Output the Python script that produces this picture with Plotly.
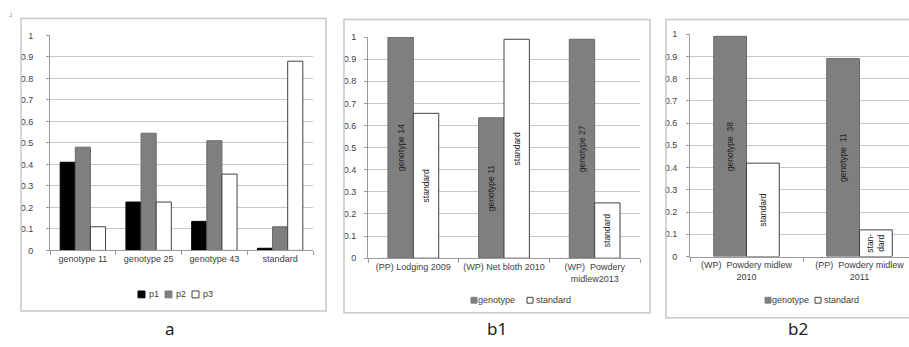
import plotly.graph_objects as go

W, H = 909, 347

# ---- data: panel a ----
a_categories = ["genotype 11", "genotype 25", "genotype 43", "standard"]
a_series = ["p1", "p2", "p3"]
a_p1 = [0.41, 0.225, 0.135, 0.01]
a_p2 = [0.48, 0.545, 0.51, 0.11]
a_p3 = [0.11, 0.225, 0.355, 0.88]

# ---- data: panel b1 ----
b_series = ["genotype", "standard"]
b1_categories = ["(PP) Lodging 2009", "(WP) Net bloth 2010", "(WP)  Powdery<br>midlew2013"]
b1_genotype = [1.0, 0.635, 0.99]
b1_standard = [0.655, 0.99, 0.25]
b1_genotype_text = ["genotype 14", "genotype 11", "genotype 27"]
b1_standard_text = ["standard", "standard", "standard"]

# ---- data: panel b2 ----
b2_categories = ["(WP)  Powdery midlew<br>2010", "(PP)  Powdery midlew<br>2011"]
b2_genotype = [0.99, 0.89]
b2_standard = [0.42, 0.12]
b2_genotype_text = ["genotype  38", "genotype  11"]
b2_standard_text = ["standard", "stan-<br>dard"]

panel_labels = ["a", "b1", "b2"]

y_ticks = [0, 0.1, 0.2, 0.3, 0.4, 0.5, 0.6, 0.7, 0.8, 0.9, 1]
y_ticktext = ["0", "0.1", "0.2", "0.3", "0.4", "0.5", "0.6", "0.7", "0.8", "0.9", "1"]

GRAY = "#7f7f7f"
GRAY_EDGE = "#6a6a6a"
EDGE = "#404040"
FONT = "Liberation Sans, Arial, sans-serif"
TXT = "#404040"


def px(x):
    return x / W


def py(y):
    return 1 - y / H


fig = go.Figure()

# panel a  (bar width 0.23 of a category)
aw = 0.23
a_styles = [("black", "black"), (GRAY, GRAY_EDGE), ("white", EDGE)]
for i, (vals, (fc, lc)) in enumerate(zip([a_p1, a_p2, a_p3], a_styles)):
    fig.add_trace(go.Bar(x=a_categories, y=vals, name=a_series[i], width=aw, offset=-1.5 * aw + i * aw,
                         marker=dict(color=fc, line=dict(color=lc, width=1)),
                         xaxis="x", yaxis="y", showlegend=False))

bar_text_font = dict(family=FONT, size=8.5, color="#222222")


def b_trace(cats, vals, txt, name, fc, lc, w, off, xa, ya):
    return go.Bar(x=cats, y=vals, name=name, text=txt, width=w, offset=off,
                  textposition="inside", insidetextanchor="middle", textangle=-90,
                  textfont=bar_text_font, constraintext="none",
                  marker=dict(color=fc, line=dict(color=lc, width=1)),
                  xaxis=xa, yaxis=ya, showlegend=False)


# panel b1
bw1 = 0.28
fig.add_trace(b_trace(b1_categories, b1_genotype, b1_genotype_text, b_series[0], GRAY, GRAY_EDGE, bw1, -bw1, "x2", "y2"))
fig.add_trace(b_trace(b1_categories, b1_standard, b1_standard_text, b_series[1], "white", EDGE, bw1, 0, "x2", "y2"))

# panel b2
bw2 = 0.29
fig.add_trace(b_trace(b2_categories, b2_genotype, b2_genotype_text, b_series[0], GRAY, GRAY_EDGE, bw2, -bw2, "x3", "y3"))
fig.add_trace(b_trace(b2_categories, b2_standard, b2_standard_text, b_series[1], "white", EDGE, bw2, 0, "x3", "y3"))

tickfont = dict(family=FONT, size=9, color=TXT)


def xax(domain, anchor, rng):
    return dict(domain=domain, anchor=anchor, type="category", range=rng,
                showline=True, linecolor="#9a9a9a", linewidth=1,
                ticks="outside", tickson="boundaries", ticklen=4, tickcolor="#9a9a9a",
                showgrid=False, tickfont=tickfont, fixedrange=True)


def yax(domain, anchor, standoff):
    return dict(domain=domain, anchor=anchor, range=[0, 1], tickvals=y_ticks, ticktext=y_ticktext,
                showline=True, linecolor="#9a9a9a", linewidth=1,
                ticks="outside", ticklen=3, tickcolor="#9a9a9a", ticklabelstandoff=standoff,
                showgrid=True, gridcolor="#c8c8c8", gridwidth=1,
                zeroline=False, tickfont=tickfont, fixedrange=True)


fig.update_layout(
    width=W, height=H, autosize=False,
    margin=dict(l=0, r=0, t=0, b=0),
    paper_bgcolor="white", plot_bgcolor="white",
    barmode="group",
    showlegend=False,
    xaxis=xax([px(50), px(313)], "y", [-0.5, 3.5]),
    yaxis=yax([py(252.7), py(31.3)], "x", 11),
    xaxis2=xax([px(368), px(640)], "y2", [-0.5, 2.5]),
    yaxis2=yax([py(260.7), py(33)], "x2", 6),
    xaxis3=xax([px(690), 1.0], "y3", [-0.5, -0.5 + (909 - 690) / 113]),
    yaxis3=yax([py(259), py(30)], "x3", 7),
)

# panel frames
frame_line = dict(color="#c8c8c8", width=1.5)
fig.add_shape(type="rect", xref="paper", yref="paper", x0=px(21), x1=px(326), y0=py(315), y1=py(14), line=frame_line)
fig.add_shape(type="rect", xref="paper", yref="paper", x0=px(344), x1=px(650), y0=py(317), y1=py(15), line=frame_line)
fig.add_shape(type="rect", xref="paper", yref="paper", x0=px(666), x1=px(915), y0=py(322), y1=py(15), line=frame_line)

# legends (compact, Excel-like): (square x0, text x0, y-center, name, fill, edge, size)
legend_font = dict(family=FONT, size=9, color=TXT)
legend_items = [
    (138, 147, 298, a_series[0], "black", "black", 7),
    (165, 174, 298, a_series[1], GRAY, GRAY, 7),
    (192, 201, 298, a_series[2], "white", EDGE, 7),
    (471, 476, 304, b_series[0], GRAY, GRAY, 6),
    (527, 534, 304, b_series[1], "white", EDGE, 6),
    (765, 770, 304, b_series[0], GRAY, GRAY, 6),
    (815, 822, 304, b_series[1], "white", EDGE, 6),
]
for sx, tx, cy, name, fc, lc, s in legend_items:
    fig.add_shape(type="rect", xref="paper", yref="paper", x0=px(sx), x1=px(sx + s),
                  y0=py(cy + s / 2), y1=py(cy - s / 2), fillcolor=fc, line=dict(color=lc, width=1))
    fig.add_annotation(text=name, xref="paper", yref="paper", x=px(tx), y=py(cy), xanchor="left",
                       yanchor="middle", showarrow=False, font=legend_font)

# panel letters
panel_font = dict(family="Noto Sans, Liberation Sans, sans-serif", size=17, color="#222222")
for label, x, y in zip(panel_labels, [170, 497, 798], [333.5, 333, 333]):
    fig.add_annotation(text=label, xref="paper", yref="paper", x=px(x), y=py(y),
                       xanchor="center", yanchor="middle", showarrow=False, font=panel_font)

fig.add_annotation(text="J", xref="paper", yref="paper", x=px(10), y=py(10), xanchor="center", yanchor="middle",
                   showarrow=False, font=dict(family=FONT, size=6, color="#888888"))

fig.write_html("out.html", config={"displayModeBar": False},
               post_script="document.body.style.margin='0px';")
